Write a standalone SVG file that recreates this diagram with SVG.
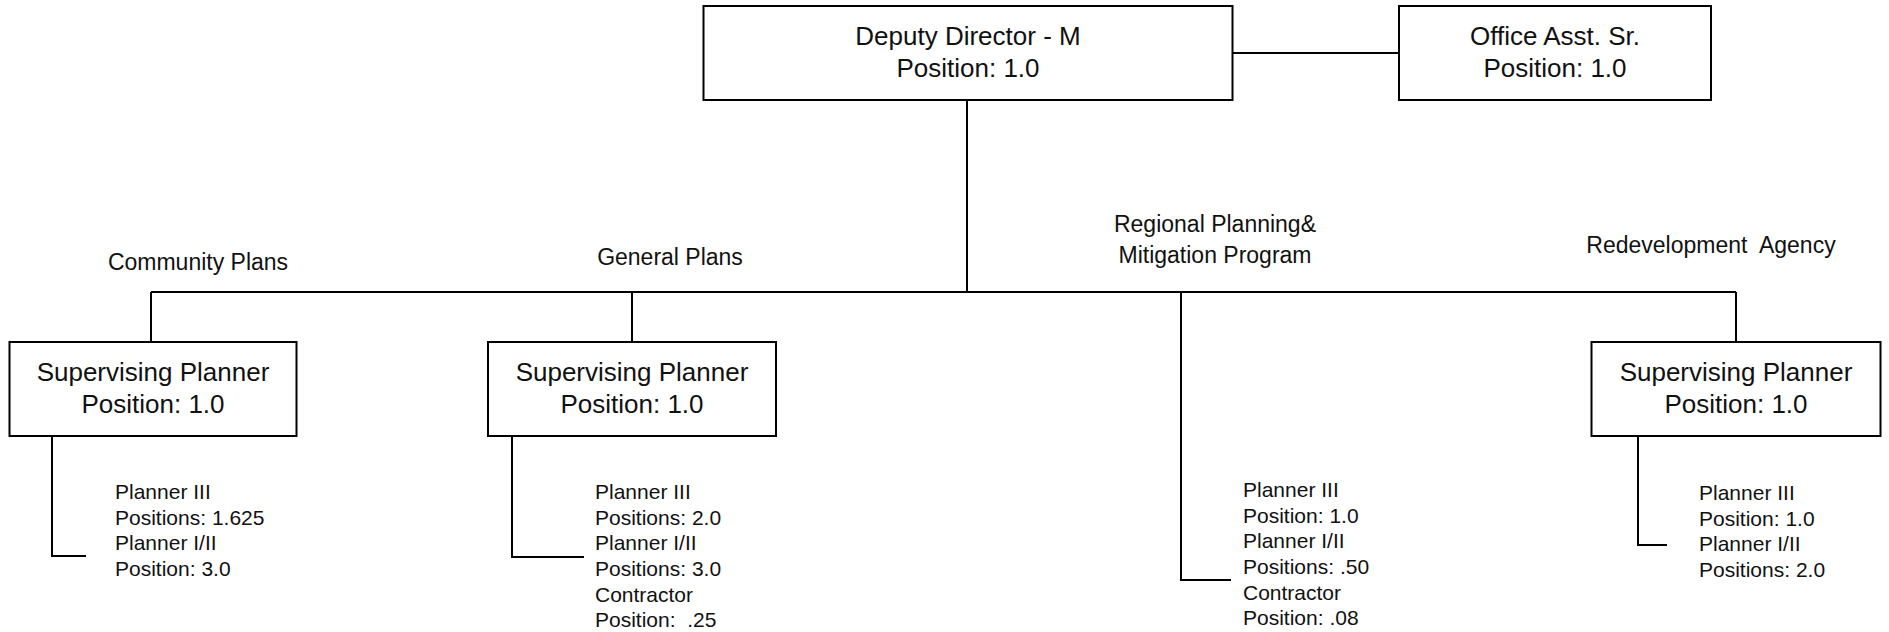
<svg xmlns="http://www.w3.org/2000/svg" width="1889" height="632" viewBox="0 0 1889 632">
  <style>
    .box { fill: #ffffff; stroke: #000000; stroke-width: 2; }
    .wire { fill: none; stroke: #000000; stroke-width: 2; }
    .title { font-family: "Liberation Sans", Arial, sans-serif; font-size: 26px; fill: #111111; text-anchor: middle; }
    .unit { font-family: "Liberation Sans", Arial, sans-serif; font-size: 23px; fill: #111111; text-anchor: middle; white-space: pre; }
    .staff { font-family: "Liberation Sans", Arial, sans-serif; font-size: 21px; fill: #111111; white-space: pre; }
  </style>
  <rect width="1889" height="632" fill="#ffffff"/>

  <!-- connectors -->
  <g id="connectors">
    <path class="wire" d="M1232 53 H1399"/>
    <path class="wire" d="M967 100 V292"/>
    <path class="wire" d="M151 292 H1736"/>
    <path class="wire" d="M151 292 V342"/>
    <path class="wire" d="M632 292 V342"/>
    <path class="wire" d="M1736 292 V342"/>
    <path class="wire" d="M1181 292 V580 H1231"/>
    <path class="wire" d="M52 436 V556 H86"/>
    <path class="wire" d="M512 436 V557 H584"/>
    <path class="wire" d="M1638 436 V545 H1667"/>
  </g>

  <!-- top level -->
  <g id="deputy-director">
    <rect class="box" x="703.5" y="6" width="529" height="94"/>
    <text class="title" x="968" y="45">Deputy Director - M</text>
    <text class="title" x="968" y="77">Position: 1.0</text>
  </g>
  <g id="office-asst">
    <rect class="box" x="1399" y="6" width="312" height="94"/>
    <text class="title" x="1555" y="45">Office Asst. Sr.</text>
    <text class="title" x="1555" y="77">Position: 1.0</text>
  </g>

  <!-- unit headings -->
  <g id="unit-labels">
    <text class="unit" x="198" y="270">Community Plans</text>
    <text class="unit" x="670" y="265">General Plans</text>
    <text class="unit" x="1215" y="232">Regional Planning&amp;</text>
    <text class="unit" x="1215" y="263">Mitigation Program</text>
    <text class="unit" x="1711" y="253">Redevelopment  Agency</text>
  </g>

  <!-- supervising planners -->
  <g id="community-plans">
    <rect class="box" x="9.5" y="342" width="287" height="94"/>
    <text class="title" x="153" y="381">Supervising Planner</text>
    <text class="title" x="153" y="413">Position: 1.0</text>
  </g>
  <g id="general-plans">
    <rect class="box" x="488" y="342" width="288" height="94"/>
    <text class="title" x="632" y="381">Supervising Planner</text>
    <text class="title" x="632" y="413">Position: 1.0</text>
  </g>
  <g id="redevelopment-agency">
    <rect class="box" x="1591.5" y="342" width="289" height="94"/>
    <text class="title" x="1736" y="381">Supervising Planner</text>
    <text class="title" x="1736" y="413">Position: 1.0</text>
  </g>

  <!-- staff under each unit -->
  <g id="community-staff">
    <text class="staff" x="115" y="499">Planner III</text>
    <text class="staff" x="115" y="525">Positions: 1.625</text>
    <text class="staff" x="115" y="550">Planner I/II</text>
    <text class="staff" x="115" y="576">Position: 3.0</text>
  </g>
  <g id="general-staff">
    <text class="staff" x="595" y="499">Planner III</text>
    <text class="staff" x="595" y="525">Positions: 2.0</text>
    <text class="staff" x="595" y="550">Planner I/II</text>
    <text class="staff" x="595" y="576">Positions: 3.0</text>
    <text class="staff" x="595" y="602">Contractor</text>
    <text class="staff" x="595" y="627">Position:  .25</text>
  </g>
  <g id="regional-staff">
    <text class="staff" x="1243" y="497">Planner III</text>
    <text class="staff" x="1243" y="523">Position: 1.0</text>
    <text class="staff" x="1243" y="548">Planner I/II</text>
    <text class="staff" x="1243" y="574">Positions: .50</text>
    <text class="staff" x="1243" y="600">Contractor</text>
    <text class="staff" x="1243" y="625">Position: .08</text>
  </g>
  <g id="redevelopment-staff">
    <text class="staff" x="1699" y="500">Planner III</text>
    <text class="staff" x="1699" y="526">Position: 1.0</text>
    <text class="staff" x="1699" y="551">Planner I/II</text>
    <text class="staff" x="1699" y="577">Positions: 2.0</text>
  </g>
</svg>
